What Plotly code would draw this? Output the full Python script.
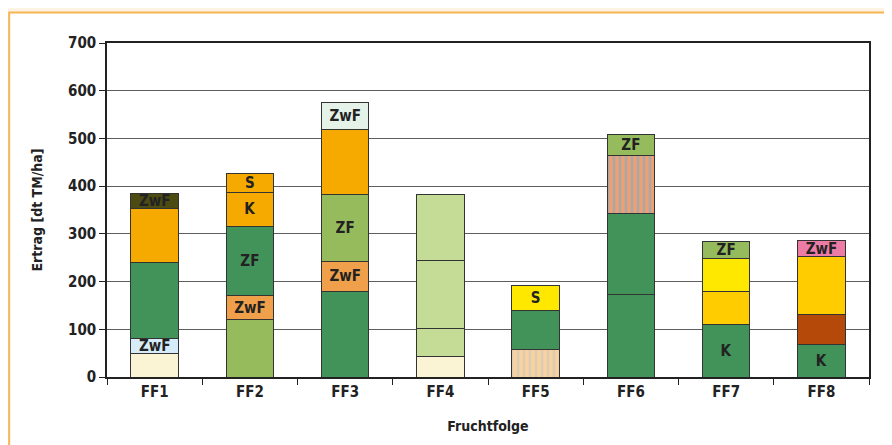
import plotly.graph_objects as go

categories = ["FF1", "FF2", "FF3", "FF4", "FF5", "FF6", "FF7", "FF8"]

# stacked segments per crop rotation (bottom -> top)
ff1_values = [50, 30, 160, 114, 31]
ff2_values = [120, 50, 146, 71, 40]
ff3_values = [180, 62, 141, 136, 57]
ff4_values = [43, 59, 142, 139]
ff5_values = [57, 82, 53]
ff6_values = [173, 170, 121, 44]
ff7_values = [111, 68, 69, 35]
ff8_values = [68, 63, 121, 34]

ff1_labels = ["", "ZwF", "", "", "ZwF"]
ff2_labels = ["", "ZwF", "ZF", "K", "S"]
ff3_labels = ["", "ZwF", "ZF", "", "ZwF"]
ff4_labels = ["", "", "", ""]
ff5_labels = ["", "", "S"]
ff6_labels = ["", "", "", "ZF"]
ff7_labels = ["K", "", "", "ZF"]
ff8_labels = ["K", "", "", "ZwF"]

ff1_colors = ["#faf4d4", "#d6ecf8", "#41935a", "#f6aa00", "#4b4b12"]
ff2_colors = ["#95bb5c", "#f0a04b", "#41935a", "#f6aa00", "#f6aa00"]
ff3_colors = ["#41935a", "#f0a04b", "#95bb5c", "#f6aa00", "#e4f2e8"]
ff4_colors = ["#faf4d4", "#c4dc96", "#c4dc96", "#c4dc96"]
ff5_colors = ["STRIPE_A", "#41935a", "#ffe800"]
ff6_colors = ["#41935a", "#41935a", "STRIPE_B", "#95bb5c"]
ff7_colors = ["#41935a", "#ffcc00", "#ffe800", "#95bb5c"]
ff8_colors = ["#41935a", "#b5490a", "#ffcc00", "#ec7ba6"]

all_values = [ff1_values, ff2_values, ff3_values, ff4_values,
              ff5_values, ff6_values, ff7_values, ff8_values]
all_labels = [ff1_labels, ff2_labels, ff3_labels, ff4_labels,
              ff5_labels, ff6_labels, ff7_labels, ff8_labels]
all_colors = [ff1_colors, ff2_colors, ff3_colors, ff4_colors,
              ff5_colors, ff6_colors, ff7_colors, ff8_colors]

stripes = {
    "STRIPE_A": dict(bg="#f8d3a0", fg="#c4c4c4"),
    "STRIPE_B": dict(bg="#f0a070", fg="#62aee0"),
}

FONT = "Liberation Sans Narrow, DejaVu Sans Condensed, sans-serif"
label_font = dict(family=FONT, size=16, color="#222222", weight="bold")

fig = go.Figure()
for cat, vals, labs, cols in zip(categories, all_values, all_labels, all_colors):
    for v, lab, col in zip(vals, labs, cols):
        marker = dict(line=dict(color="#333333", width=1))
        if col in stripes:
            s = stripes[col]
            marker["color"] = s["bg"]
            marker["pattern"] = dict(shape="|", fgcolor=s["fg"], bgcolor=s["bg"],
                                     size=6, solidity=0.45, fillmode="overlay")
        else:
            marker["color"] = col
        fig.add_trace(go.Bar(
            x=[cat], y=[v], text=[lab], marker=marker,
            textposition="inside", insidetextanchor="middle", textangle=0,
            textfont=label_font, insidetextfont=label_font,
            width=0.5, showlegend=False, hoverinfo="x+y",
        ))

# the page body offsets the figure by ~8px
OFF = 8
W, H = 892, 445
L, T = 107 - OFF, 42.5 - OFF
R = W - (868.7 - OFF)
B = H - (376.7 - OFF)
pw = W - L - R
ph = H - T - B

def px_x(x):
    return (x - OFF - L) / pw

def px_y(y):
    return (H - B - (y - OFF)) / ph

fig.add_shape(type="rect", xref="paper", yref="paper",
              x0=px_x(OFF + 1.2), x1=px_x(W + 40), y0=px_y(H + 40), y1=px_y(12),
              fillcolor="white", line=dict(color="#f7b553", width=2), layer="below")

axis_font = dict(family=FONT, size=15, color="#222222", weight="bold")

fig.update_layout(
    width=W, height=H,
    barmode="stack",
    bargap=0.5,
    paper_bgcolor="#fdf3e5",
    plot_bgcolor="rgba(0,0,0,0)",
    margin=dict(l=L, r=R, t=T, b=B, pad=0, autoexpand=False),
    uniformtext=dict(minsize=14, mode="show"),
    xaxis=dict(
        automargin=False,
        title=dict(text="Fruchtfolge", font=dict(family=FONT, size=14, color="#222222", weight="bold"), standoff=21),
        tickfont=axis_font,
        showline=True, linecolor="#222222", linewidth=1.5,
        mirror=True,
        ticks="outside", ticklen=6, tickcolor="#222222",
        tickson="boundaries",
        showgrid=False,
    ),
    yaxis=dict(
        automargin=False,
        title=dict(text="Ertrag [dt TM/ha]", font=dict(family=FONT, size=14, color="#222222", weight="bold"), standoff=22),
        range=[0, 700], dtick=100,
        tickfont=axis_font,
        showline=True, linecolor="#222222", linewidth=1.5,
        mirror=True,
        ticks="outside", ticklen=6, tickcolor="#222222",
        showgrid=True, gridcolor="#5e5e5e", gridwidth=1,
        zeroline=False,
    ),
)

fig.write_html("out.html")
